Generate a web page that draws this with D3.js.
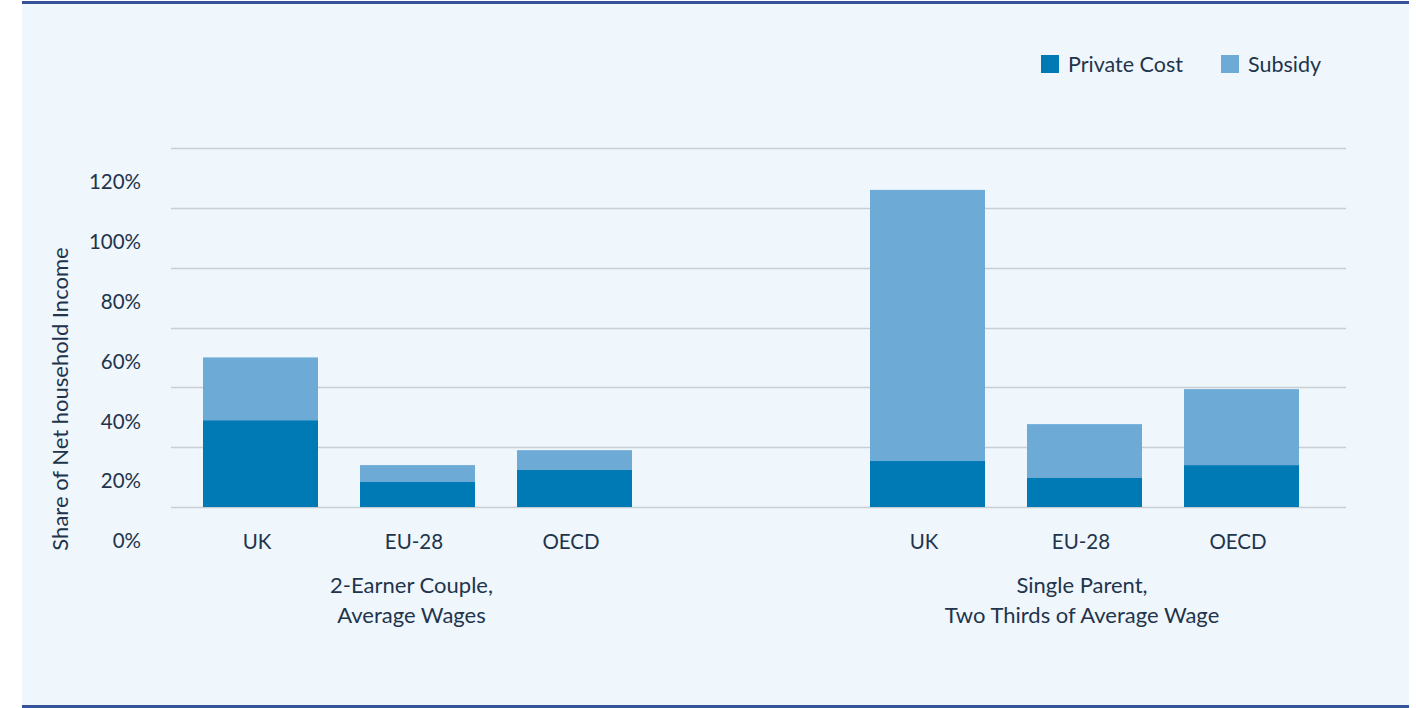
<!DOCTYPE html>
<html>
<head>
<meta charset="utf-8">
<script src="https://cdn.jsdelivr.net/npm/d3@7"></script>
<style>
  html, body { margin: 0; padding: 0; background: #ffffff; }
  svg { display: block; }
  text { font-family: Lato, "Open Sans", sans-serif; fill: #22344b; }
</style>
</head>
<body>
<svg id="chart" width="1416" height="708"></svg>
<script>
// Household groups and their wrapped labels
const groups = ["couple", "single"];
const groupLabels = [
  ["2-Earner Couple,", "Average Wages"],
  ["Single Parent,", "Two Thirds of Average Wage"]
];
const regions = ["UK", "EU-28", "OECD"];

// Childcare cost as % of net household income
const privateCost = [29, 8.4, 12.4, 15.4, 9.7, 14.0];
const subsidy     = [21, 5.6, 6.6, 90.6, 18.0, 25.4];

const yTicks = [0, 20, 40, 60, 80, 100, 120];
const seriesNames = ["Private Cost", "Subsidy"];
const colors = ["#007ab5", "#6dabd6"];

const svg = d3.select("#chart");

// Panel background with dark rules top and bottom
svg.append("rect").attr("x", 22).attr("y", 2).attr("width", 1387).attr("height", 704)
  .attr("fill", "#eff7fd");
svg.append("rect").attr("x", 22).attr("y", 1).attr("width", 1387).attr("height", 3)
  .attr("fill", "#35529a");
svg.append("rect").attr("x", 22).attr("y", 705).attr("width", 1387).attr("height", 3)
  .attr("fill", "#35529a");

const plotLeft = 171, plotRight = 1346;
const y = d3.scaleLinear().domain([0, 120]).range([507, 148]);

// Outer scale places each household group, inner scale places regions in a group
const innerWidth = 429;
const xGroup = d3.scaleBand().domain(groups).range([84, 1418]);
const xInner = d3.scaleBand().domain(regions).range([0, innerWidth]).paddingInner(0.2675).paddingOuter(0);

// Gridlines
svg.append("g").selectAll("line").data(yTicks).join("line")
  .attr("x1", plotLeft).attr("x2", plotRight)
  .attr("y1", d => Math.round(y(d)) + 0.5).attr("y2", d => Math.round(y(d)) + 0.5)
  .attr("stroke", "#c9ced3").attr("stroke-width", 1.5);

// Tick labels sit below their lines
svg.append("g").selectAll("text").data(yTicks).join("text")
  .attr("x", 141).attr("y", d => y(d) + 34).attr("dy", "0.35em")
  .attr("text-anchor", "end")
  .attr("font-size", 20.5)
  .text(d => d + "%");

// Y-axis title
svg.append("text")
  .attr("transform", "translate(60,399) rotate(-90)")
  .attr("dy", "0.35em")
  .attr("text-anchor", "middle")
  .attr("font-size", 22)
  .text("Share of Net household Income");

// Build stacked rows
const rows = [];
groups.forEach((g, gi) => {
  regions.forEach((r, ri) => {
    const i = gi * regions.length + ri;
    rows.push({ group: g, region: r, p: privateCost[i], s: subsidy[i] });
  });
});
const xPos = d => xGroup(d.group) + (xGroup.bandwidth() - innerWidth) / 2 + xInner(d.region);

const bars = svg.append("g");
bars.selectAll("rect.sub").data(rows).join("rect").attr("class", "sub")
  .attr("x", xPos).attr("width", xInner.bandwidth())
  .attr("y", d => y(d.p + d.s)).attr("height", d => y(d.p) - y(d.p + d.s))
  .attr("fill", colors[1]);
bars.selectAll("rect.priv").data(rows).join("rect").attr("class", "priv")
  .attr("x", xPos).attr("width", xInner.bandwidth())
  .attr("y", d => y(d.p)).attr("height", d => y(0) - y(d.p))
  .attr("fill", colors[0]);

// Region labels
svg.append("g").selectAll("text").data(rows).join("text")
  .attr("x", d => xPos(d) + xInner.bandwidth() / 2 - 3.5).attr("y", 542).attr("dy", "0.35em")
  .attr("text-anchor", "middle")
  .attr("font-size", 20.5)
  .text(d => d.region);

// Group labels
const groupShift = [-6, -2.5];
groups.forEach((g, gi) => {
  const cx = xGroup(g) + xGroup.bandwidth() / 2 + groupShift[gi];
  groupLabels[gi].forEach((line, li) => {
    svg.append("text")
      .attr("x", cx).attr("y", 585 + li * 30).attr("dy", "0.35em")
      .attr("text-anchor", "middle")
      .attr("font-size", 22)
      .text(line);
  });
});

// Legend
const legendX = [1041, 1221];
const legend = svg.append("g");
seriesNames.forEach((name, i) => {
  legend.append("rect").attr("x", legendX[i]).attr("y", 55).attr("width", 18).attr("height", 18)
    .attr("fill", colors[i]);
  legend.append("text").attr("x", legendX[i] + 27).attr("y", 64).attr("dy", "0.35em")
    .attr("font-size", 21.5)
    .text(name);
});
</script>
</body>
</html>
